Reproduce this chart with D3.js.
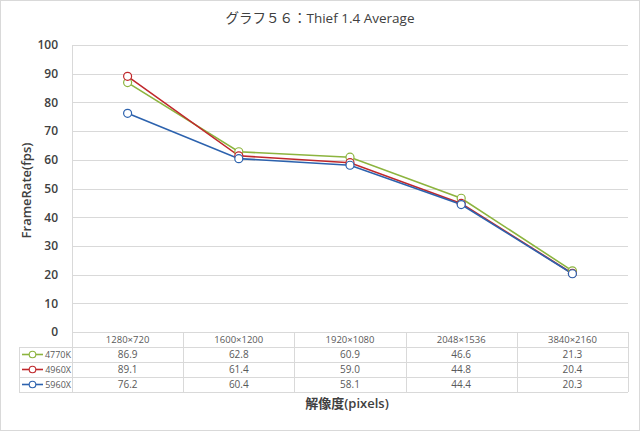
<!DOCTYPE html>
<html><head><meta charset="utf-8">
<script src="https://cdn.jsdelivr.net/npm/d3@7"></script>
<style>body{margin:0;background:#fff}svg{display:block}</style>
</head><body>
<script>
const categories = ["1280×720","1600×1200","1920×1080","2048×1536","3840×2160"];
const s4770K = [86.9,62.8,60.9,46.6,21.3];
const s4960X = [89.1,61.4,59.0,44.8,20.4];
const s5960X = [76.2,60.4,58.1,44.4,20.3];
const seriesNames = ["4770K","4960X","5960X"];
const seriesColors = ["#8cb43e","#c0282c","#2c62ae"];
const yTicks = [0,10,20,30,40,50,60,70,80,90,100];
const title = "グラフ５６：Thief 1.4 Average";
const xTitle = "解像度(pixels)";
const yTitle = "FrameRate(fps)";
const series = [s4770K,s4960X,s5960X];

(function(){
const W=640,H=431;
const font = "'Open Sans','Noto Sans CJK JP',sans-serif";
const svg=d3.select("body").append("svg").attr("width",W).attr("height",H).style("font-family",font);
svg.append("rect").attr("x",0.5).attr("y",0.5).attr("width",W-1).attr("height",H-1).attr("fill","#fff").attr("stroke","#d9d9d9");

const pl=72,pr=628,pt=45,pb=332;
const x=d3.scaleBand().domain(categories).range([pl,pr]);
const y=d3.scaleLinear().domain([0,100]).range([pb,pt]);

svg.append("text").attr("x",320).attr("y",23).attr("text-anchor","middle").attr("font-size",13.5).attr("fill","#404040").text(title);

svg.append("g").selectAll("line").data(yTicks).join("line")
 .attr("x1",pl).attr("x2",pr).attr("y1",d=>Math.round(y(d))+0.5).attr("y2",d=>Math.round(y(d))+0.5)
 .attr("stroke","#d9d9d9");
svg.append("line").attr("x1",pl+0.5).attr("x2",pl+0.5).attr("y1",pt).attr("y2",pb).attr("stroke","#d9d9d9");

const yAxis=d3.axisLeft(y).tickValues(yTicks).tickSize(0).tickPadding(14);
const ga=svg.append("g").attr("transform",`translate(${pl},0)`).call(yAxis);
ga.select(".domain").remove();
ga.selectAll("text").attr("font-size",12).attr("font-weight",600).attr("fill","#404040").style("font-family",font);

svg.append("text").attr("transform",`translate(31,${(pt+pb)/2+2}) rotate(-90)`).attr("text-anchor","middle")
 .attr("font-size",13).attr("font-weight",600).attr("fill","#404040").text(yTitle);

const line=d3.line().x((d,i)=>x(categories[i])+x.bandwidth()/2).y(d=>y(d));
series.forEach((s,k)=>{
  svg.append("path").datum(s).attr("d",line).attr("fill","none").attr("stroke",seriesColors[k]).attr("stroke-width",1.6);
});
series.forEach((s,k)=>{
  svg.append("g").selectAll("circle").data(s).join("circle")
   .attr("cx",(d,i)=>x(categories[i])+x.bandwidth()/2).attr("cy",d=>y(d)).attr("r",4)
   .attr("fill","#fff").attr("stroke",seriesColors[k]).attr("stroke-width",1.2);
});

const tTop=332,rowH=15,legLeft=19;
const tg=svg.append("g");
const gridCol="#d9d9d9";
for(let r=0;r<=4;r++){
  const yy=tTop+r*rowH+0.5;
  tg.append("line").attr("x1",r===0?pl:legLeft).attr("x2",pr).attr("y1",yy).attr("y2",yy).attr("stroke",gridCol);
}
categories.forEach(c=>{
  tg.append("line").attr("x1",Math.round(x(c))+0.5).attr("x2",Math.round(x(c))+0.5).attr("y1",tTop).attr("y2",tTop+4*rowH).attr("stroke",gridCol);
});
tg.append("line").attr("x1",pr+0.5).attr("x2",pr+0.5).attr("y1",tTop).attr("y2",tTop+4*rowH).attr("stroke",gridCol);
tg.append("line").attr("x1",legLeft+0.5).attr("x2",legLeft+0.5).attr("y1",tTop+rowH).attr("y2",tTop+4*rowH).attr("stroke",gridCol);

tg.selectAll("text.cat").data(categories).join("text").attr("class","cat")
 .attr("x",d=>x(d)+x.bandwidth()/2).attr("y",tTop+rowH/2+3.5).attr("text-anchor","middle")
 .attr("font-size",9.5).attr("fill","#595959").text(d=>d);
series.forEach((s,k)=>{
  const ry=tTop+(k+1)*rowH;
  tg.append("g").selectAll("text").data(s).join("text")
   .attr("x",(d,i)=>x(categories[i])+x.bandwidth()/2).attr("y",ry+rowH/2+3.5).attr("text-anchor","middle")
   .attr("font-size",10).attr("fill","#595959").text(d=>d.toFixed(1));
  const cy=ry+rowH/2;
  tg.append("line").attr("x1",22).attr("x2",43).attr("y1",cy).attr("y2",cy).attr("stroke",seriesColors[k]).attr("stroke-width",1.6);
  tg.append("circle").attr("cx",32.5).attr("cy",cy).attr("r",3.3).attr("fill","#fff").attr("stroke",seriesColors[k]).attr("stroke-width",1.1);
  tg.append("text").attr("x",71).attr("y",cy+3.5).attr("text-anchor","end").attr("font-size",9).attr("fill","#595959").text(seriesNames[k]);
});

svg.append("text").attr("x",347).attr("y",408).attr("text-anchor","middle").attr("font-size",13).attr("font-weight",600).attr("fill","#404040").text(xTitle);
})();
</script>
</body></html>
